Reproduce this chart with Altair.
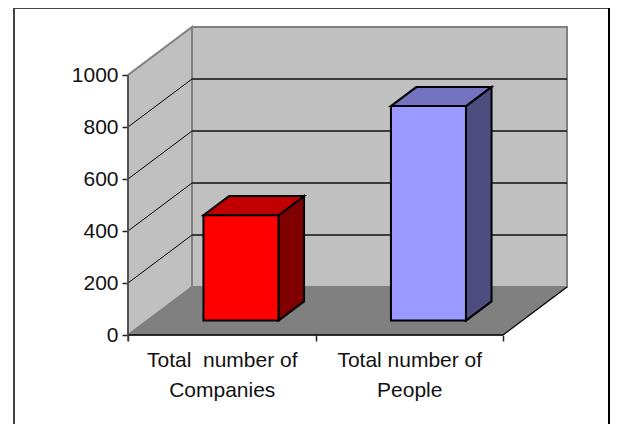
import altair as alt
import pandas as pd

# Data
categories = [["Total\u00a0 number of", "Companies"], ["Total number of", "People"]]
values = [405, 825]
front_colors = ["#ff0000", "#9999ff"]
top_colors = ["#c00000", "#7373bf"]
side_colors = ["#800000", "#4d4d80"]
y_ticks = [0, 200, 400, 600, 800, 1000]
grid_values = [200, 400, 600, 800]

# Oblique projection: one unit of depth shifts the point along the axes
DEPTH_X = 64 / 187.5
DEPTH_Y = 48 / 0.26
BAR_PAD = 0.3
W, H = 602, 416


def px(c, d=0.0):
    return c + d * DEPTH_X


def py(v, d=0.0):
    return v + d * DEPTH_Y


X_SCALE = alt.Scale(domain=[-120 / 187.5, (W - 120) / 187.5], nice=False, zero=False)
Y_SCALE = alt.Scale(domain=[(327 - H) / 0.26, 327 / 0.26], nice=False, zero=False)
FONT = "Liberation Sans"
X_AXIS = alt.Axis(
    values=[0, 0.5, 1, 1.5, 2], title=None, grid=False, domain=False,
    offset=327 - H, tickSize=6, tickColor="#222222", tickWidth=1.5,
    tickOpacity={"expr": "datum.value % 1 == 0 ? 1 : 0"},
    labelExpr=f"datum.value == 0.5 ? {categories[0]} : datum.value == 1.5 ? {categories[1]} : ''",
    labelFont=FONT, labelFontSize=21, labelColor="#111111", labelLineHeight=30,
    labelPadding=8, labelOverlap=False, labelFlush=False, labelBound=False,
)
Y_AXIS = alt.Axis(
    values=y_ticks, title=None, grid=False, domain=False, offset=-120, format="d",
    tickSize=6, tickColor="#222222", tickWidth=1.5,
    labelFont=FONT, labelFontSize=21, labelColor="#111111", labelPadding=4,
    labelOverlap=False, labelBound=False, labelFlush=False,
)
X_Q = alt.X("x:Q", scale=X_SCALE, axis=X_AXIS)
Y_Q = alt.Y("y:Q", scale=Y_SCALE, axis=Y_AXIS)


def vertical(points, fill, stroke, sw):
    """points: (x, y_low, y_high) - left and right edges are vertical."""
    df = pd.DataFrame(points, columns=["x", "y", "y2"])
    return alt.Chart(df).mark_area(
        orient="vertical", fill=fill, stroke=stroke, strokeWidth=sw, opacity=1, clip=False
    ).encode(x=X_Q, y=Y_Q, y2="y2:Q")


def horizontal(points, fill, stroke, sw):
    """points: (y, x_low, x_high) - top and bottom edges are horizontal."""
    df = pd.DataFrame(points, columns=["y", "x", "x2"])
    return alt.Chart(df).mark_area(
        orient="horizontal", fill=fill, stroke=stroke, strokeWidth=sw, opacity=1, clip=False
    ).encode(y=Y_Q, x=X_Q, x2="x2:Q")


def segment(a, b, color, sw):
    df = pd.DataFrame([a, b], columns=["x", "y"])
    return alt.Chart(df).mark_line(color=color, strokeWidth=sw).encode(x=X_Q, y=Y_Q)


layers = []

# Walls
layers.append(vertical([(px(0, 1), 0 + DEPTH_Y, 1000 + DEPTH_Y), (px(2, 1), 0 + DEPTH_Y, 1000 + DEPTH_Y)],
                       "#c0c0c0", "#808080", 2))
layers.append(vertical([(px(0, 0), 0, 1000), (px(0, 1), DEPTH_Y, 1000 + DEPTH_Y)],
                       "#c0c0c0", "#808080", 2))
# Floor
layers.append(horizontal([(py(0, 0), px(0, 0), px(2, 0)), (py(0, 1), px(0, 1), px(2, 1))],
                         "#808080", "#808080", 1))
layers.append(segment((px(0, 0), 0), (px(2, 0), 0), "#000000", 1.5))
layers.append(segment((px(2, 0), 0), (px(2, 1), DEPTH_Y), "#000000", 1.2))

# Grid lines
for g in grid_values:
    layers.append(segment((px(0, 0), py(g, 0)), (px(0, 1), py(g, 1)), "#000000", 1))
    layers.append(segment((px(0, 1), py(g, 1)), (px(2, 1), py(g, 1)), "#111111", 1.3))
layers.append(segment((px(0, 0), -23), (px(0, 0), 1000), "#444444", 1.5))

# Bars
d0, d1 = BAR_PAD, 1 - BAR_PAD
for i, v in enumerate(values):
    c0, c1 = i + BAR_PAD, i + 1 - BAR_PAD
    layers.append(vertical([(px(c1, d0), py(0, d0), py(v, d0)), (px(c1, d1), py(0, d1), py(v, d1))],
                           side_colors[i], "#000000", 2))
    layers.append(horizontal([(py(v, d0), px(c0, d0), px(c1, d0)), (py(v, d1), px(c0, d1), px(c1, d1))],
                             top_colors[i], "#000000", 2))
    layers.append(vertical([(px(c0, d0), py(0, d0), py(v, d0)), (px(c1, d0), py(0, d0), py(v, d0))],
                           front_colors[i], "#000000", 2))

# Outer frame: top, left and right edges only
frame = alt.Chart(pd.DataFrame({"x": [0]}))
layers.append(frame.mark_rule(color="#444444", strokeWidth=2).encode(
    x=alt.value(6), x2=alt.value(W - 1), y=alt.value(0)))
layers.append(frame.mark_rule(color="#444444", strokeWidth=2).encode(
    x=alt.value(6), y=alt.value(0), y2=alt.value(H)))
layers.append(frame.mark_rule(color="#000000", strokeWidth=2).encode(
    x=alt.value(W - 1), y=alt.value(0), y2=alt.value(H)))

chart = alt.layer(*layers).properties(
    width=W, height=H, padding=0, background="white",
    autosize=alt.AutoSizeParams(type="none"),
).configure_view(stroke=None)

chart.save("out.html", embed_options={"renderer": "svg", "actions": False})
